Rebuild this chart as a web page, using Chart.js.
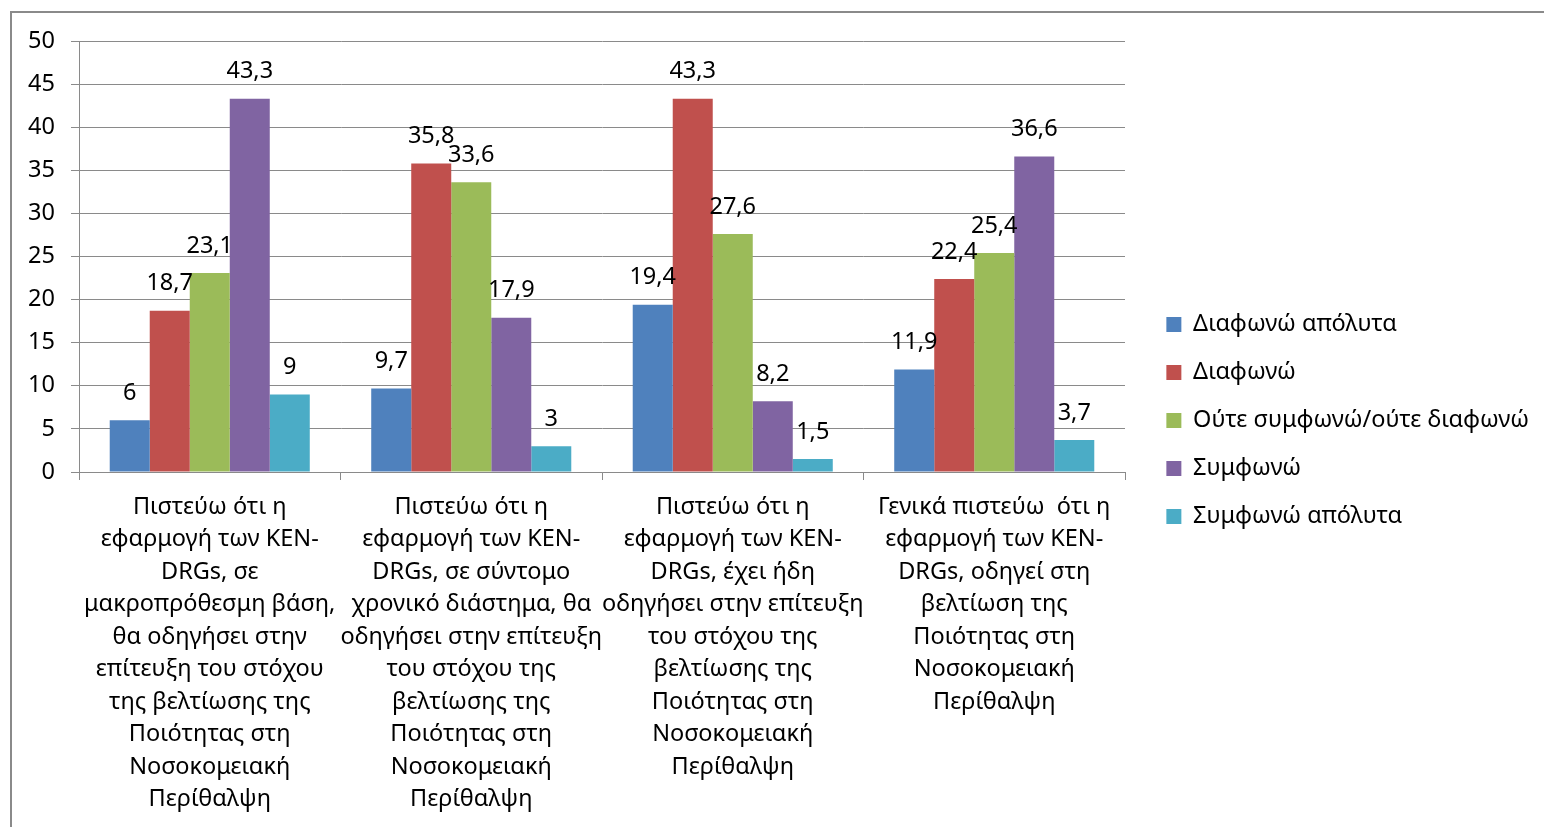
<!DOCTYPE html>
<html><head><meta charset="utf-8">
<script src="https://cdn.jsdelivr.net/npm/chart.js@4"></script>
<style>
html,body{margin:0;padding:0;background:#fff;overflow:hidden;}
#wrap{position:relative;width:1544px;height:827px;}
#frame{position:absolute;left:10px;top:11px;width:1600px;height:900px;border:2px solid #8a8a8a;box-sizing:border-box;pointer-events:none;}
canvas{position:absolute;left:0;top:0;}
</style></head><body>
<div id="wrap"><canvas id="c" width="1544" height="827"></canvas><div id="frame"></div></div>
<script>
const categories = [
  ["Πιστεύω ότι η", "εφαρμογή των ΚΕΝ-", "DRGs, σε", "μακροπρόθεσμη βάση,", "θα οδηγήσει στην", "επίτευξη του στόχου", "της βελτίωσης της", "Ποιότητας στη", "Νοσοκομειακή", "Περίθαλψη"],
  ["Πιστεύω ότι η", "εφαρμογή των ΚΕΝ-", "DRGs, σε σύντομο", "χρονικό διάστημα, θα", "οδηγήσει στην επίτευξη", "του στόχου της", "βελτίωσης της", "Ποιότητας στη", "Νοσοκομειακή", "Περίθαλψη"],
  ["Πιστεύω ότι η", "εφαρμογή των ΚΕΝ-", "DRGs, έχει ήδη", "οδηγήσει στην επίτευξη", "του στόχου της", "βελτίωσης της", "Ποιότητας στη", "Νοσοκομειακή", "Περίθαλψη"],
  ["Γενικά πιστεύω  ότι η", "εφαρμογή των ΚΕΝ-", "DRGs, οδηγεί στη", "βελτίωση της", "Ποιότητας στη", "Νοσοκομειακή", "Περίθαλψη"]
];
const seriesNames = ["Διαφωνώ απόλυτα", "Διαφωνώ", "Ούτε συμφωνώ/ούτε διαφωνώ", "Συμφωνώ", "Συμφωνώ απόλυτα"];
const disagreeAbs = [6, 9.7, 19.4, 11.9];
const disagree = [18.7, 35.8, 43.3, 22.4];
const neutral = [23.1, 33.6, 27.6, 25.4];
const agree = [43.3, 17.9, 8.2, 36.6];
const agreeAbs = [9, 3, 1.5, 3.7];
const seriesColors = ["#4F81BD", "#C0504D", "#9BBB59", "#8064A2", "#4BACC6"];
const yMin = 0, yMax = 50, yStep = 5;

const FONT = "'Noto Sans', 'DejaVu Sans', sans-serif";
const FS = 23.5;
const GRID = "#8a8a8a";
const PAD_RIGHT = 5;
const PLOT_RIGHT = 1125;

const valueLabels = {
  id: 'valueLabels',
  afterDatasetsDraw(chart) {
    const ctx = chart.ctx;
    ctx.save();
    ctx.font = FS + "px " + FONT;
    ctx.fillStyle = "#000";
    ctx.textAlign = "center";
    ctx.textBaseline = "middle";
    chart.data.datasets.forEach((ds, i) => {
      const meta = chart.getDatasetMeta(i);
      meta.data.forEach((bar, j) => {
        ctx.fillText(String(ds.data[j]).replace('.', ','), bar.x, bar.y - 27);
      });
    });
    ctx.restore();
  }
};

const allSeries = [disagreeAbs, disagree, neutral, agree, agreeAbs];
new Chart(document.getElementById('c'), {
  type: 'bar',
  data: {
    labels: categories,
    datasets: allSeries.map((d, i) => ({
      label: seriesNames[i],
      data: d,
      backgroundColor: seriesColors[i],
      borderWidth: 0,
      categoryPercentage: 0.765,
      barPercentage: 1
    }))
  },
  options: {
    responsive: false,
    animation: false,
    devicePixelRatio: 1,
    layout: { padding: { left: 10, top: 14, right: PAD_RIGHT, bottom: 0 } },
    plugins: {
      title: { display: true, text: '', padding: 0, font: { size: 27, lineHeight: 1 } },
      legend: {
        position: 'right',
        align: 'center',
        maxWidth: 600,
        labels: { font: { family: FONT, size: FS }, color: '#000', boxWidth: 15, boxHeight: 15, padding: 24.5 }
      },
      tooltip: { enabled: false }
    },
    scales: {
      x: {
        grid: { offset: true, drawOnChartArea: false, drawTicks: true, tickLength: 8, color: GRID },
        border: { color: GRID, width: 1 },
        ticks: { font: { family: FONT, size: FS, lineHeight: 1.383 }, color: '#000', maxRotation: 0, minRotation: 0, autoSkip: false, padding: 10.75 },
        afterFit: s => { s.height = 355; }
      },
      y: {
        min: yMin, max: yMax,
        ticks: { stepSize: yStep, padding: 16, font: { family: FONT, size: FS }, color: '#000' },
        grid: { color: GRID, tickLength: 8 },
        border: { color: GRID },
        afterFit: s => { s.width = 69; }
      },
      pad: {
        type: 'linear', position: 'right', display: true,
        grid: { display: false }, border: { display: false }, ticks: { display: false },
        afterFit: s => { s.width = Math.max(0, s.chart.width - PAD_RIGHT - s.chart.legend.width - PLOT_RIGHT); }
      }
    }
  },
  plugins: [valueLabels]
});
</script>
</body></html>
